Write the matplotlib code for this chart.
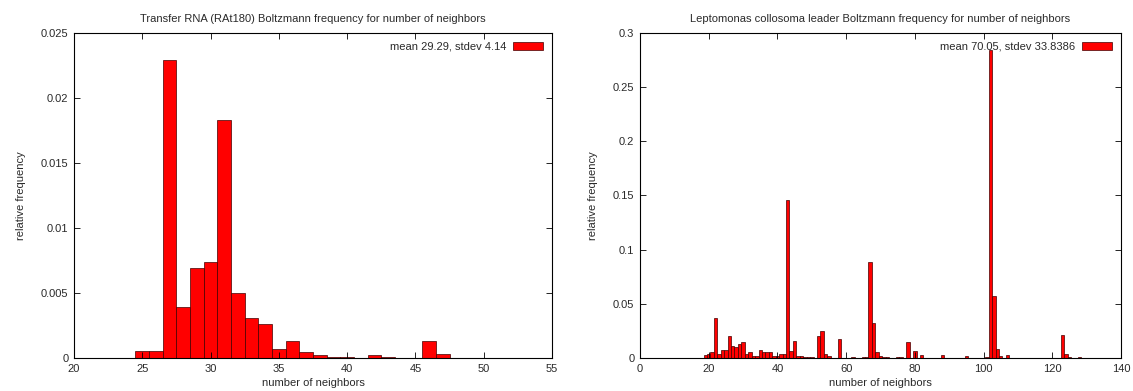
import numpy as np
import matplotlib
matplotlib.use("Agg")
import matplotlib.pyplot as plt
from matplotlib.patches import Patch
from matplotlib.ticker import FuncFormatter, MultipleLocator

plt.rcParams['font.family'] = ['Liberation Sans', 'DejaVu Sans']

# left panel: transfer RNA
trna_x = list(range(23, 51))
trna_freq = [0.00002, 0.00003, 0.00052, 0.00057, 0.0229, 0.0039, 0.00696, 0.00742,
             0.01834, 0.005, 0.0031, 0.0026, 0.0007, 0.0013, 0.00044, 0.00023,
             0.0001, 0.0001, 0.00001, 0.0002, 0.0001, 0.00001, 0.00001, 0.00128,
             0.00033, 0.00002, 0.00001, 0.00001]
trna_title = "Transfer RNA (RAt180) Boltzmann frequency for number of neighbors"
trna_label = "mean 29.29, stdev 4.14"

# right panel: Leptomonas collosoma leader
lep_x = [19, 20, 21, 22, 23, 24, 25, 26, 27, 28, 29, 30, 31, 32, 33, 34, 35, 36, 37, 38,
         39, 40, 41, 42, 43, 44, 45, 46, 47, 48, 49, 50, 52, 53, 54, 55, 58, 62, 65, 66,
         67, 68, 69, 70, 71, 72, 75, 76, 78, 80, 82, 88, 95, 101, 102, 103, 104, 105,
         107, 123, 124, 125, 128]
lep_freq = [0.0025, 0.004, 0.006, 0.037, 0.004, 0.007, 0.0074, 0.020, 0.011, 0.0105,
            0.013, 0.0148, 0.004, 0.006, 0.002, 0.002, 0.007, 0.006, 0.006, 0.006,
            0.002, 0.002, 0.004, 0.004, 0.146, 0.0065, 0.0157, 0.002, 0.0015, 0.001,
            0.001, 0.001, 0.020, 0.025, 0.004, 0.002, 0.0173, 0.001, 0.001, 0.001,
            0.089, 0.032, 0.006, 0.0015, 0.001, 0.001, 0.001, 0.001, 0.0145, 0.0068,
            0.003, 0.003, 0.0015, 0.001, 0.284, 0.057, 0.008, 0.002, 0.003, 0.0216,
            0.004, 0.0005, 0.0005]
lep_title = "Leptomonas collosoma leader Boltzmann frequency for number of neighbors"
lep_label = "mean 70.05, stdev 33.8386"

txt = '#2a2a2a'
fmt = FuncFormatter(lambda v, p: '%g' % round(v, 6))


def draw(ax, x, y, title, label, xlim, xstep, ylim, ystep):
    ax.bar(x, y, width=1.0, color='#ff0000', edgecolor='#400000', linewidth=0.5)
    ax.set_xlim(*xlim)
    ax.set_ylim(*ylim)
    ax.xaxis.set_major_locator(MultipleLocator(xstep))
    ax.yaxis.set_major_locator(MultipleLocator(ystep))
    ax.yaxis.set_major_formatter(fmt)
    ax.xaxis.set_major_formatter(fmt)
    ax.tick_params(direction='in', top=True, right=True, length=4, width=0.6,
                   labelsize=8, labelcolor=txt, pad=4)
    for s in ax.spines.values():
        s.set_linewidth(0.8)
    ax.set_title(title, fontsize=8, color=txt, pad=8)
    ax.set_xlabel("number of neighbors", fontsize=8, color=txt, labelpad=3)
    ax.set_ylabel("relative frequency", fontsize=8, color=txt, labelpad=11)
    h = Patch(facecolor='#ff0000', edgecolor='#400000', linewidth=0.5)
    ax.legend([h], [label], loc='upper right', frameon=False, markerfirst=False,
              fontsize=8, handlelength=2.7, handleheight=0.6, handletextpad=0.6,
              borderaxespad=0.6, borderpad=0.2, labelcolor=txt)


fig = plt.figure(figsize=(11.33, 3.91), dpi=100)
ax1 = fig.add_axes([74 / 1133, 33 / 391, 478 / 1133, 325 / 391])
ax2 = fig.add_axes([640 / 1133, 33 / 391, 481 / 1133, 325 / 391])

draw(ax1, trna_x, trna_freq, trna_title, trna_label, (20, 55), 5, (0, 0.025), 0.005)
draw(ax2, lep_x, lep_freq, lep_title, lep_label, (0, 140), 20, (0, 0.3), 0.05)

fig.savefig("out.png", dpi=100)
